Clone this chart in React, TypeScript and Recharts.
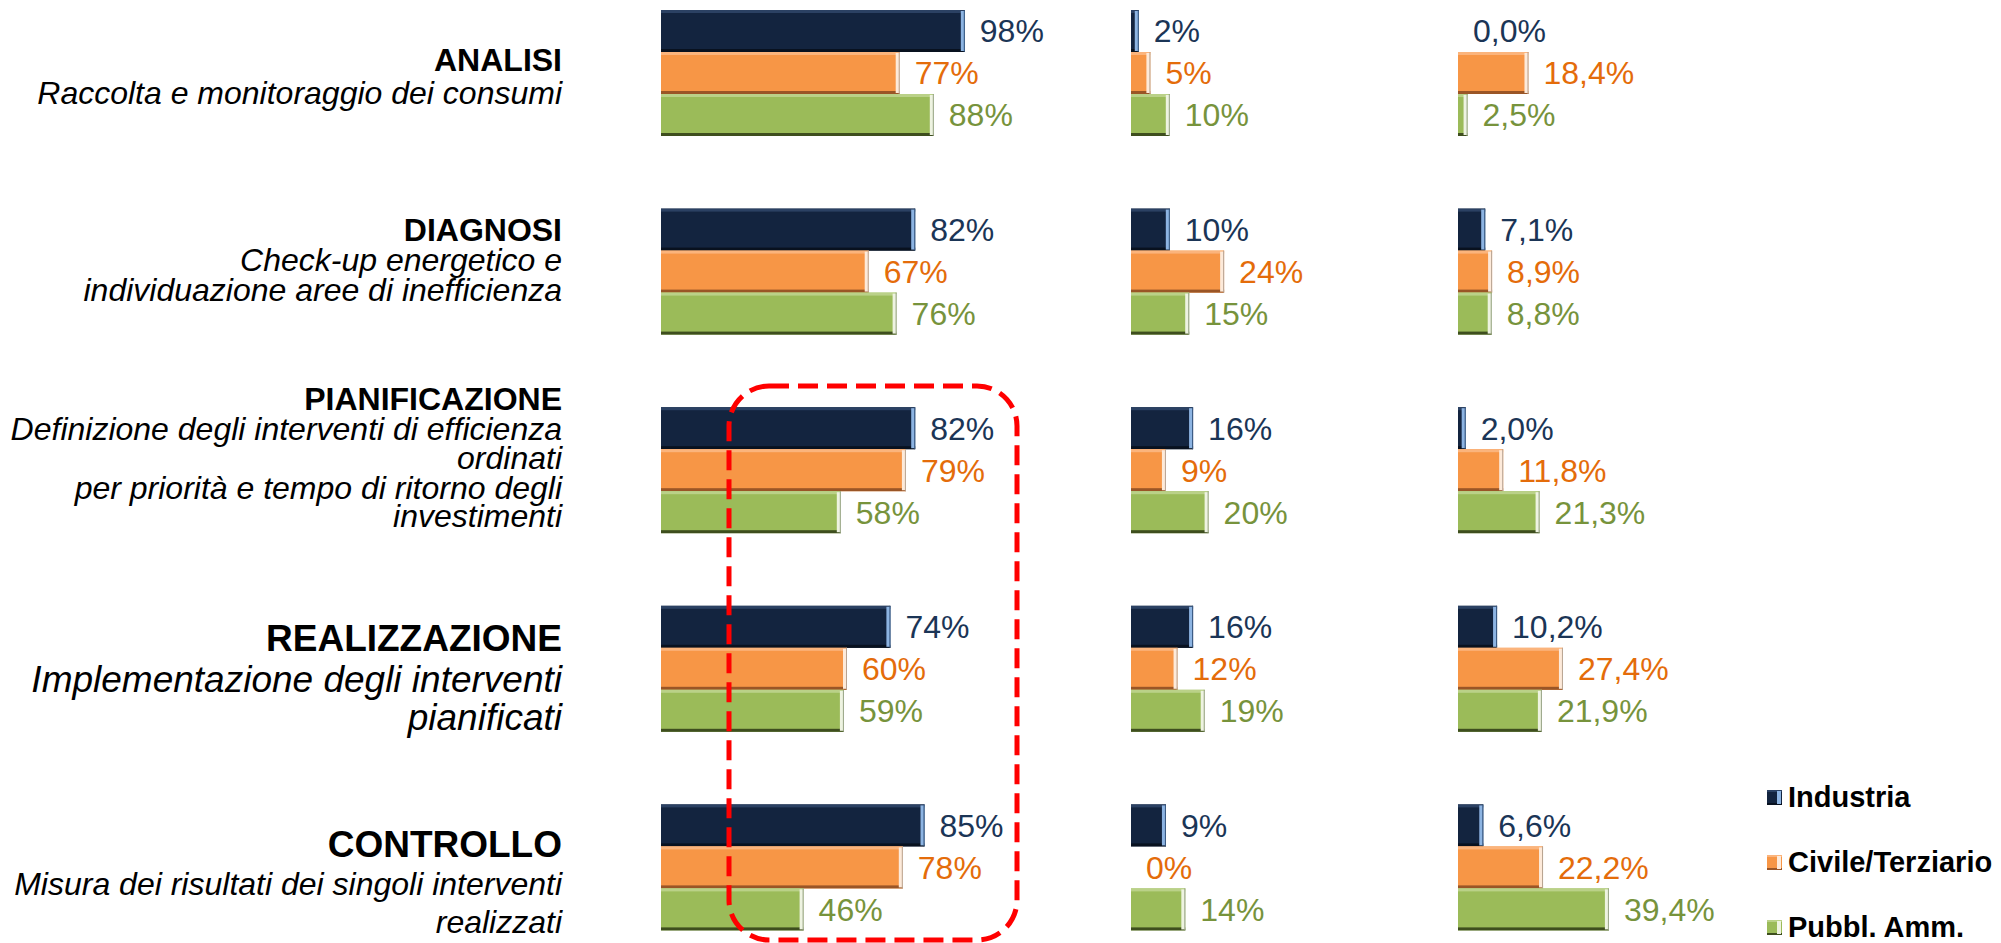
import React from 'react';
import { BarChart, Bar, XAxis, YAxis, LabelList } from 'recharts';

const categories = ['ANALISI', 'DIAGNOSI', 'PIANIFICAZIONE', 'REALIZZAZIONE', 'CONTROLLO'];
const subtitles = [
  ['Raccolta e monitoraggio dei consumi'],
  ['Check-up energetico e', 'individuazione aree di inefficienza'],
  ['Definizione degli interventi di efficienza', 'ordinati', 'per priorità e tempo di ritorno degli', 'investimenti'],
  ['Implementazione degli interventi', 'pianificati'],
  ['Misura dei risultati dei singoli interventi', 'realizzati'],
];
const seriesNames = ['Industria', 'Civile/Terziario', 'Pubbl. Amm.'];

// first block
const industria1 = [98, 82, 82, 74, 85];
const civile1 = [77, 67, 79, 60, 78];
const pubblica1 = [88, 76, 58, 59, 46];
// second block
const industria2 = [2, 10, 16, 16, 9];
const civile2 = [5, 24, 9, 12, 0];
const pubblica2 = [10, 15, 20, 19, 14];
// third block
const industria3 = [0.0, 7.1, 2.0, 10.2, 6.6];
const civile3 = [18.4, 8.9, 11.8, 27.4, 22.2];
const pubblica3 = [2.5, 8.8, 21.3, 21.9, 39.4];

const FONT = '"Liberation Sans", Arial, sans-serif';

// label block look: title size, subtitle size, vertical offset of each line from the band centre
const labelStyle = [
  { title: 32, sub: 32, dy: [-13, 20] },
  { title: 32, sub: 32, dy: [-42, -12, 18] },
  { title: 32, sub: 32, dy: [-72, -42, -13, 17, 45] },
  { title: 37, sub: 37, dy: [-31, 10, 48] },
  { title: 37, sub: 32, dy: [-23, 16, 54] },
];

type Bevel = { base: string; top: string; bottom: string; edge: string; rim: string; text: string };
const bevels: Bevel[] = [
  { base: '#13243F', top: '#2B4163', bottom: '#08111F', edge: '#8DB4E2', rim: '#35557D', text: '#1B3556' },
  { base: '#F79646', top: '#FBB47C', bottom: '#9A5526', edge: '#FDEADA', rim: '#B8A391', text: '#E46C0A' },
  { base: '#9BBB59', top: '#BAD188', bottom: '#3E4E1E', edge: '#EEF3E1', rim: '#97A386', text: '#77933C' },
];

function bevelShape(b: Bevel) {
  return (props: any) => {
    const { x, y, width, height } = props;
    if (!width || width <= 0.5) return <g />;
    const e = Math.min(4, width);
    return (
      <g>
        <rect x={x} y={y} width={width} height={height} fill={b.base} />
        <rect x={x} y={y} width={width} height={3} fill={b.top} />
        <rect x={x} y={y + height - 3} width={width} height={3} fill={b.bottom} />
        <rect x={x + width - e} y={y + 1} width={e} height={height - 2} fill={b.edge} />
        <rect x={x + width - 1} y={y} width={1} height={height} fill={b.rim} />
      </g>
    );
  };
}

const buildData = (a: number[], b: number[], c: number[]) =>
  categories.map((name, i) => ({ name, ind: a[i], civ: b[i], pub: c[i] }));

const data1 = buildData(industria1, civile1, pubblica1);
const data2 = buildData(industria2, civile2, pubblica2);
const data3 = buildData(industria3, civile3, pubblica3);

const intPct = (v: any) => `${v}%`;
const decPct = (v: any) => `${Number(v).toFixed(1).replace('.', ',')}%`;

const CategoryTick = (props: any) => {
  const { x, y, payload } = props;
  const i = categories.indexOf(payload.value);
  const st = labelStyle[i];
  return (
    <g fontFamily={FONT} fill="#000">
      <text x={x} y={y + st.dy[0]} textAnchor="end" dominantBaseline="central" fontWeight="bold" fontSize={st.title}>
        {payload.value}
      </text>
      {subtitles[i].map((s, k) => (
        <text
          key={k}
          x={x}
          y={y + st.dy[k + 1]}
          textAnchor="end"
          dominantBaseline="central"
          fontStyle="italic"
          fontSize={st.sub}
        >
          {s}
        </text>
      ))}
    </g>
  );
};

const CHART_TOP = -26;
const CHART_H = 993;
const BAR = 42;

function Panel({ data, left, plotWidth, rightRoom, fmt, withLabels }: any) {
  const axisW = withLabels ? left : 0;
  return (
    <div style={{ position: 'absolute', left: withLabels ? 0 : left, top: CHART_TOP }}>
      <BarChart
        layout="vertical"
        width={axisW + plotWidth + rightRoom}
        height={CHART_H}
        data={data}
        barSize={BAR}
        barGap={0}
        margin={{ top: 0, right: rightRoom, bottom: 0, left: 0 }}
      >
        <XAxis type="number" domain={[0, 100]} hide />
        <YAxis
          type="category"
          dataKey="name"
          hide={!withLabels}
          width={axisW}
          axisLine={false}
          tickLine={false}
          tickSize={0}
          tickMargin={99}
          tick={<CategoryTick />}
          interval={0}
        />
        {['ind', 'civ', 'pub'].map((k, s) => (
          <Bar key={k} dataKey={k} name={seriesNames[s]} shape={bevelShape(bevels[s])} isAnimationActive={false}>
            <LabelList
              dataKey={k}
              position="right"
              offset={15}
              formatter={fmt}
              fill={bevels[s].text}
              fontSize={32}
              fontFamily={FONT}
            />
          </Bar>
        ))}
      </BarChart>
    </div>
  );
}

function Swatch({ b }: { b: Bevel }) {
  return (
    <svg width={15} height={15} style={{ display: 'block' }}>
      <rect x={0} y={0} width={15} height={15} fill={b.base} />
      <rect x={0} y={0} width={15} height={2} fill={b.top} />
      <rect x={0} y={13} width={15} height={2} fill={b.bottom} />
      <rect x={10} y={1} width={4} height={13} fill={b.edge} />
    </svg>
  );
}

export default function App() {
  return (
    <div
      style={{
        position: 'absolute',
        left: 0,
        top: 0,
        width: 2001,
        height: 943,
        overflow: 'hidden',
        background: '#fff',
        fontFamily: FONT,
      }}
    >
      <Panel data={data1} left={661} plotWidth={310} rightRoom={100} fmt={intPct} withLabels />
      <Panel data={data2} left={1131} plotWidth={388} rightRoom={0} fmt={intPct} />
      <Panel data={data3} left={1458} plotWidth={383} rightRoom={0} fmt={decPct} />

      <svg width={2001} height={943} style={{ position: 'absolute', left: 0, top: 0, pointerEvents: 'none' }}>
        <rect x={729} y={386} width={288} height={554} rx={40} ry={40} fill="none" stroke="#FF0000" strokeWidth={5} strokeDasharray="20 9" />
      </svg>

      <div style={{ position: 'absolute', left: 1767, top: 781 }}>
        {seriesNames.map((n, i) => (
          <div key={n} style={{ display: 'flex', alignItems: 'center', height: 32, marginBottom: i < 2 ? 33 : 0 }}>
            <Swatch b={bevels[i]} />
            <span style={{ marginLeft: 6, fontWeight: 'bold', fontSize: 29, lineHeight: '32px', color: '#000' }}>{n}</span>
          </div>
        ))}
      </div>
    </div>
  );
}
